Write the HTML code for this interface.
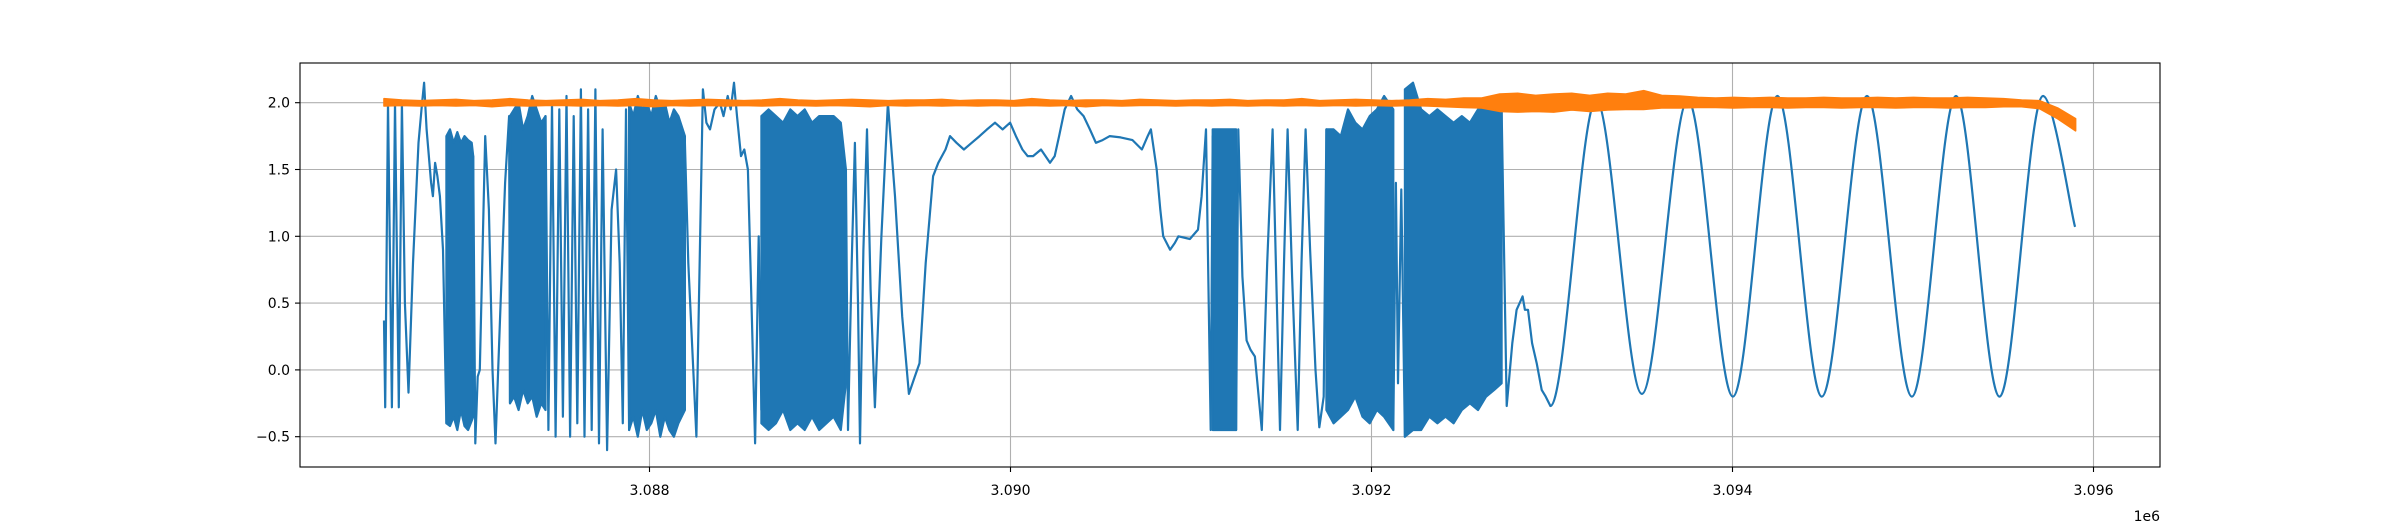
<!DOCTYPE html>
<html><head><meta charset="utf-8"><style>
html,body{margin:0;padding:0;background:#fff;}
svg{display:block;font-family:"DejaVu Sans","Liberation Sans",sans-serif;}
</style></head><body>
<svg id="chart" width="2400" height="525" viewBox="0 0 2400 525" xmlns="http://www.w3.org/2000/svg">
<rect x="0" y="0" width="2400" height="525" fill="#fff"/>
<g id="grid"></g>
<g id="series"></g>
<rect x="300" y="63" width="1860" height="404" fill="none" stroke="#000" stroke-width="1.1"/>
<g id="ticks"></g>
<text x="2160" y="521" font-size="14" text-anchor="end">1e6</text>
</svg>
<script>
const xTickVals=[3088,3090,3092,3094,3096];
const xTickLabels=["3.088","3.090","3.092","3.094","3.096"];
const yTickVals=[-0.5,0,0.5,1,1.5,2];
const yTickLabels=["\u22120.5","0.0","0.5","1.0","1.5","2.0"];
// blue series (sample offset from 3.086e6, value), sparse part
const blueT=[529,536,551,573,590,611,628,645,665,690,720,740,751,765,790,800,812,825,839,856,
875,1023,1035,1048,1060,1090,1110,1130,1147,1175,1200,1222,
1227,1424,
1440,1460,1480,1500,1520,1540,1560,1580,1600,1620,1640,1660,1680,1700,1720,1740,1765,1790,1815,1835,1852,1870,
1887,2196,
2215,2260,2296,2315,2335,2360,2390,2410,2433,2450,2468,2485,2507,2525,2545,2565,2585,2605,
2620,3088,
3100,3120,3138,3155,3166,3185,3205,3225,3249,3285,3321,3360,3400,3437,3470,3496,3530,3571,3600,3640,3665,3701,3742,3785,3829,3870,3914,3956,3998,4030,4066,4095,4125,4169,4219,4245,4269,4300,4336,4370,4405,4440,4473,4510,4550,4610,4676,4728,4760,4778,4810,4830,4846,4884,4910,4930,4994,5039,5059,5083,5109,
5120,5250,5262,5285,5308,5330,5354,5392,5422,5452,5472,5493,5515,5535,5560,5591,5612,5635,5660,5690,5711,5735,5750,
6121,6135,6147,6165,6185,
6721,6749,6780,6804,6837,6850,6867,6890,6915,6943,6965,6991];
const blueV=[0.37,-0.28,2.0,-0.28,2.0,-0.28,2.0,0.5,-0.17,0.8,1.7,2.0,2.15,1.8,1.4,1.3,1.55,1.45,1.3,0.9,
-0.4,1.6,-0.55,-0.05,0.0,1.75,1.2,0.0,-0.55,0.5,1.4,1.9,
-0.25,1.9,
-0.45,2.0,-0.5,1.95,-0.35,2.05,-0.5,1.9,-0.4,2.1,-0.5,1.95,-0.45,2.1,-0.55,1.8,-0.6,1.2,1.5,0.8,-0.4,1.95,
-0.45,1.7,
0.8,-0.5,2.1,1.85,1.8,1.95,2.0,1.9,2.05,1.95,2.15,1.9,1.6,1.65,1.5,0.5,-0.55,1.0,
-0.3,1.5,
-0.45,0.8,1.7,0.5,-0.55,0.9,1.8,0.6,-0.28,1.0,2.0,1.3,0.4,-0.18,-0.05,0.05,0.8,1.45,1.55,1.65,1.75,1.7,1.65,1.7,1.75,1.8,1.85,1.8,1.85,1.75,1.65,1.6,1.6,1.65,1.55,1.6,1.75,1.95,2.05,1.95,1.9,1.8,1.7,1.72,1.75,1.74,1.72,1.65,1.75,1.8,1.5,1.2,1.0,0.9,0.95,1.0,0.98,1.05,1.3,1.8,-0.45,
1.75,-0.45,1.8,0.7,0.22,0.15,0.1,-0.45,0.8,1.8,0.7,-0.45,0.8,1.8,0.7,-0.45,0.8,1.8,0.9,0.0,-0.43,-0.2,1.8,
-0.45,1.4,-0.1,1.35,-0.5,
1.95,-0.27,0.2,0.45,0.55,0.45,0.45,0.2,0.05,-0.15,-0.2,-0.27];
// dense oscillation blocks of the blue series: envelope (t, high, low)
const denseT=[[875,895,915,935,955,975,995,1015,1023],
[1227,1250,1275,1300,1325,1350,1375,1400,1424],
[1887,1910,1935,1960,1985,2010,2035,2060,2085,2110,2135,2160,2196],
[2620,2660,2700,2740,2780,2820,2860,2900,2940,2980,3020,3060,3088],
[5120,5150,5180,5210,5250],
[5750,5790,5830,5870,5910,5950,5990,6030,6070,6121],
[6185,6230,6275,6320,6365,6410,6455,6500,6545,6590,6635,6680,6721]];
const denseHi=[[1.75,1.8,1.7,1.78,1.7,1.75,1.72,1.7,1.6],
[1.9,1.95,2.0,1.8,1.9,2.05,1.95,1.85,1.9],
[2.0,1.9,2.05,1.95,2.0,1.9,2.05,1.95,2.0,1.85,1.95,1.9,1.75],
[1.9,1.95,1.9,1.85,1.95,1.9,1.95,1.85,1.9,1.9,1.9,1.85,1.5],
[1.8,1.8,1.8,1.8,1.8],
[1.8,1.8,1.75,1.95,1.85,1.8,1.9,1.95,2.05,1.95],
[2.1,2.15,1.95,1.9,1.95,1.9,1.85,1.9,1.85,1.95,1.95,1.95,1.95]];
const denseLo=[[-0.4,-0.42,-0.35,-0.45,-0.3,-0.42,-0.45,-0.38,-0.35],
[-0.25,-0.2,-0.3,-0.15,-0.25,-0.2,-0.35,-0.25,-0.3],
[-0.45,-0.35,-0.5,-0.3,-0.45,-0.4,-0.3,-0.5,-0.35,-0.45,-0.5,-0.4,-0.3],
[-0.4,-0.45,-0.4,-0.3,-0.45,-0.4,-0.45,-0.35,-0.45,-0.4,-0.35,-0.45,-0.1],
[-0.45,-0.45,-0.45,-0.45,-0.45],
[-0.3,-0.4,-0.35,-0.3,-0.2,-0.35,-0.4,-0.3,-0.35,-0.45],
[-0.5,-0.45,-0.45,-0.35,-0.4,-0.35,-0.4,-0.3,-0.25,-0.3,-0.2,-0.15,-0.1]];
// smooth oscillation part of the blue series: turning points
const waveT=[6991,7245,7498,7753,8002,8249,8495,8745,8994,9238,9479,9720,9898];
const waveV=[-0.27,2.02,-0.18,2.02,-0.2,2.05,-0.2,2.05,-0.2,2.05,-0.2,2.05,1.07];
// orange series: noise band envelope, evenly sampled
const orangeStart=529;
const orangeStep=99.7;
const orangeHi=[2.03,2.02,2.015,2.02,2.025,2.015,2.02,2.03,2.02,2.015,
2.02,2.025,2.015,2.02,2.03,2.02,2.015,2.02,2.025,2.02,
2.015,2.02,2.03,2.02,2.015,2.02,2.025,2.02,2.015,2.02,
2.02,2.025,2.015,2.02,2.02,2.015,2.03,2.02,2.015,2.02,
2.02,2.015,2.025,2.02,2.015,2.02,2.02,2.025,2.015,2.02,
2.02,2.03,2.015,2.02,2.025,2.02,2.015,2.02,2.03,2.025,
2.035,2.035,2.065,2.07,2.055,2.065,2.07,2.055,2.07,2.065,
2.09,2.055,2.05,2.04,2.035,2.04,2.035,2.04,2.035,2.035,
2.04,2.035,2.035,2.04,2.035,2.04,2.035,2.035,2.04,2.035,
2.03,2.02,2.015,1.96,1.88];
const orangeLo=[1.975,1.98,1.975,1.98,1.975,1.98,1.97,1.98,1.975,1.98,
1.98,1.975,1.98,1.975,1.98,1.97,1.98,1.975,1.98,1.975,
1.98,1.975,1.98,1.98,1.975,1.98,1.975,1.97,1.98,1.975,
1.98,1.975,1.98,1.975,1.98,1.975,1.98,1.975,1.98,1.97,
1.98,1.975,1.98,1.98,1.975,1.98,1.975,1.98,1.975,1.98,
1.975,1.98,1.975,1.98,1.975,1.98,1.975,1.98,1.975,1.97,
1.965,1.96,1.935,1.93,1.935,1.93,1.945,1.935,1.945,1.95,
1.95,1.96,1.96,1.965,1.965,1.96,1.965,1.965,1.96,1.965,
1.965,1.96,1.965,1.965,1.96,1.965,1.965,1.96,1.965,1.965,
1.97,1.97,1.955,1.88,1.79];

const NS="http://www.w3.org/2000/svg";
function xPx(t){return 649.5+(t-2000)/2000*361;}
function xPxTick(k){return 649.5+(k-3088)/2*361;}
function yPx(v){return 369.9-v*133.6;}
const grid=document.getElementById('grid');
const ticks=document.getElementById('ticks');
const series=document.getElementById('series');
xTickVals.forEach((k,i)=>{
  const x=xPxTick(k);
  const g=document.createElementNS(NS,'line');
  
  
  g.setAttribute('x1',x);g.setAttribute('x2',x);g.setAttribute('y1',63);g.setAttribute('y2',467);
  g.setAttribute('stroke','#b0b0b0');g.setAttribute('stroke-width','1.1');
  grid.appendChild(g);
  const tk=document.createElementNS(NS,'line');
  
  
  tk.setAttribute('x1',x);tk.setAttribute('x2',x);tk.setAttribute('y1',467);tk.setAttribute('y2',472);
  tk.setAttribute('stroke','#000');tk.setAttribute('stroke-width','1.1');
  ticks.appendChild(tk);
  const tx=document.createElementNS(NS,'text');
  
  
  tx.setAttribute('x',x);tx.setAttribute('y',495);tx.setAttribute('font-size','14');tx.setAttribute('text-anchor','middle');
  tx.textContent=xTickLabels[i];
  ticks.appendChild(tx);
});
yTickVals.forEach((v,i)=>{
  const y=yPx(v);
  const g=document.createElementNS(NS,'line');
  
  
  g.setAttribute('x1',300);g.setAttribute('x2',2160);g.setAttribute('y1',y);g.setAttribute('y2',y);
  g.setAttribute('stroke','#b0b0b0');g.setAttribute('stroke-width','1.1');
  grid.appendChild(g);
  const tk=document.createElementNS(NS,'line');
  
  
  tk.setAttribute('x1',295);tk.setAttribute('x2',300);tk.setAttribute('y1',y);tk.setAttribute('y2',y);
  tk.setAttribute('stroke','#000');tk.setAttribute('stroke-width','1.1');
  ticks.appendChild(tk);
  const tx=document.createElementNS(NS,'text');
  
  
  tx.setAttribute('x',290);tx.setAttribute('y',y+5);tx.setAttribute('font-size','14');tx.setAttribute('text-anchor','end');
  tx.textContent=yTickLabels[i];
  ticks.appendChild(tx);
});
// blue polyline
let d='';
blueT.forEach((t,i)=>{d+=(i?'L':'M')+xPx(t).toFixed(1)+' '+yPx(blueV[i]).toFixed(1);});
// blue smooth waves
waveT.forEach((t,i)=>{
  if(i===0){d+='L'+xPx(t).toFixed(1)+' '+yPx(waveV[0]).toFixed(1);return;}
  const x0=xPx(waveT[i-1]),y0=yPx(waveV[i-1]),x1=xPx(t),y1=yPx(waveV[i]);
  const h=(x1-x0)*0.33;
  const last=(i===waveT.length-1);
  d+='C'+(x0+h).toFixed(1)+' '+y0.toFixed(1)+' '+(last?x1-h*0.3:x1-h).toFixed(1)+' '+(last?y1-8:y1).toFixed(1)+' '+x1.toFixed(1)+' '+y1.toFixed(1);
});
const pb=document.createElementNS(NS,'path');


pb.setAttribute('d',d);pb.setAttribute('fill','none');pb.setAttribute('stroke','#1f77b4');pb.setAttribute('stroke-width','2.2');pb.setAttribute('stroke-linejoin','round');
series.appendChild(pb);
// dense blocks
denseT.forEach((ts,b)=>{
  let p='';
  ts.forEach((t,i)=>{p+=(i?'L':'M')+xPx(t).toFixed(1)+' '+yPx(denseHi[b][i]).toFixed(1);});
  for(let i=ts.length-1;i>=0;i--){p+='L'+xPx(ts[i]).toFixed(1)+' '+yPx(denseLo[b][i]).toFixed(1);}
  p+='Z';
  const pd=document.createElementNS(NS,'path');
  
  
  pd.setAttribute('d',p);pd.setAttribute('fill','#1f77b4');pd.setAttribute('stroke','#1f77b4');pd.setAttribute('stroke-width','2.2');pd.setAttribute('stroke-linejoin','round');
  series.appendChild(pd);
});
// orange band
let d2='';
orangeHi.forEach((v,i)=>{d2+=(i?'L':'M')+xPx(orangeStart+i*orangeStep).toFixed(1)+' '+yPx(v).toFixed(1);});
for(let i=orangeLo.length-1;i>=0;i--){d2+='L'+xPx(orangeStart+i*orangeStep).toFixed(1)+' '+yPx(orangeLo[i]).toFixed(1);}
d2+='Z';
const po=document.createElementNS(NS,'path');


po.setAttribute('d',d2);po.setAttribute('fill','#ff7f0e');po.setAttribute('stroke','#ff7f0e');po.setAttribute('stroke-width','1.6');po.setAttribute('stroke-linejoin','round');
series.appendChild(po);
</script>
</body></html>
